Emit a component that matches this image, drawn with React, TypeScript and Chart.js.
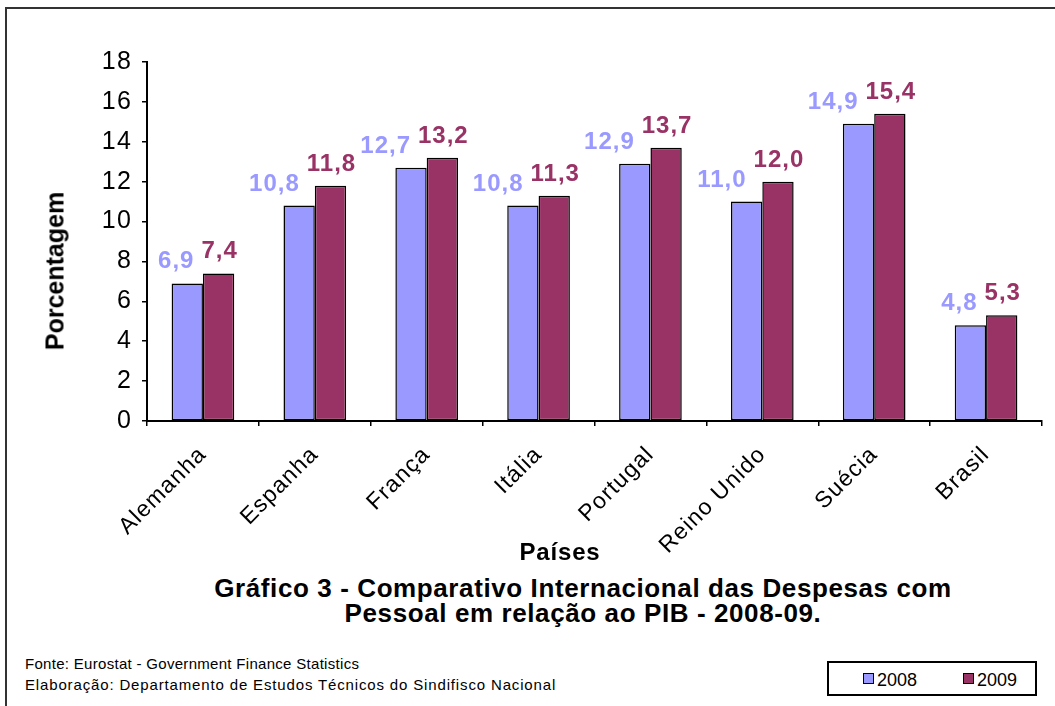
import React, { useEffect, useRef } from "react";
import { Chart, registerables } from "chart.js";

Chart.register(...registerables);

// ---- data ----
const categories = ["Alemanha", "Espanha", "França", "Itália", "Portugal", "Reino Unido", "Suécia", "Brasil"];
const values2008 = [6.9, 10.8, 12.7, 10.8, 12.9, 11.0, 14.9, 4.8];
const values2009 = [7.4, 11.8, 13.2, 11.3, 13.7, 12.0, 15.4, 5.3];
const seriesLabels = ["2008", "2009"];
const yMin = 0;
const yMax = 18;
const yStep = 2;

const titleLines = [
  "Gráfico 3 - Comparativo Internacional das Despesas com",
  "Pessoal em relação ao PIB - 2008-09.",
];
const xTitle = "Países";
const yTitle = "Porcentagem";
const footLines = [
  "Fonte: Eurostat - Government Finance Statistics",
  "Elaboração: Departamento de Estudos Técnicos do Sindifisco Nacional",
];

// ---- styles ----
const FONT = '"Liberation Sans", Arial, Helvetica, sans-serif';
const color2008 = "#9999FF";
const color2009 = "#993366";

const fmt = (v: number) => v.toFixed(1).replace(".", ",");

const spacingPlugin = {
  id: "tickSpacing",
  beforeDraw(chart: any) {
    try {
      chart.ctx.letterSpacing = "1.2px";
    } catch (e) {}
  },
  afterDraw(chart: any) {
    try {
      chart.ctx.letterSpacing = "0px";
    } catch (e) {}
  },
};

const dataLabelPlugin = {
  id: "dataLabels",
  afterDatasetsDraw(chart: any) {
    const ctx = chart.ctx;
    const m0 = chart.getDatasetMeta(0);
    const m1 = chart.getDatasetMeta(1);
    ctx.save();
    ctx.font = `bold 24px ${FONT}`;
    try {
      ctx.letterSpacing = "1px";
    } catch (e) {}
    ctx.textBaseline = "alphabetic";
    for (let i = 0; i < categories.length; i++) {
      const b0 = m0.data[i];
      const b1 = m1.data[i];
      const t0 = fmt(values2008[i]);
      const t1 = fmt(values2009[i]);
      const w0 = ctx.measureText(t0).width;
      const w1 = ctx.measureText(t1).width;
      const left1 = b1.x - w1 / 2;
      const right0 = Math.min(b0.x + w0 / 2, left1 - 6);
      ctx.fillStyle = color2009;
      ctx.textAlign = "center";
      ctx.fillText(t1, b1.x + 1, b1.y - 15);
      ctx.fillStyle = color2008;
      ctx.textAlign = "right";
      ctx.fillText(t0, right0, b0.y - 15);
    }
    ctx.restore();
  },
};

function T({
  x,
  base,
  size,
  bold = false,
  center = false,
  spacing = 0,
  children,
}: {
  x: number;
  base: number;
  size: number;
  bold?: boolean;
  center?: boolean;
  spacing?: number;
  children: React.ReactNode;
}) {
  return (
    <div
      style={{
        position: "absolute",
        left: x,
        top: base - 0.8465 * size,
        fontFamily: FONT,
        fontSize: size,
        lineHeight: `${size}px`,
        fontWeight: bold ? 700 : 400,
        whiteSpace: "nowrap",
        letterSpacing: spacing,
        transform: center ? "translateX(-50%)" : undefined,
        color: "#000",
      }}
    >
      {children}
    </div>
  );
}

export default function App() {
  const canvasRef = useRef<HTMLCanvasElement | null>(null);

  useEffect(() => {
    if (!canvasRef.current) return;
    Chart.defaults.font.family = FONT;
    const chart = new Chart(canvasRef.current, {
      type: "bar",
      data: {
        labels: categories,
        datasets: [
          {
            label: seriesLabels[0],
            data: values2008,
            backgroundColor: color2008,
            borderColor: "#000",
            borderWidth: 1.5,
            borderSkipped: false,
            categoryPercentage: 0.56,
            barPercentage: 1.0,
          },
          {
            label: seriesLabels[1],
            data: values2009,
            backgroundColor: color2009,
            borderColor: "#000",
            borderWidth: 1.5,
            borderSkipped: false,
            categoryPercentage: 0.56,
            barPercentage: 1.0,
          },
        ],
      },
      options: {
        animation: false,
        responsive: false,
        devicePixelRatio: 1,
        layout: { padding: { left: 0, top: 62, right: 13, bottom: 0 } },
        plugins: {
          legend: { display: false },
          tooltip: { enabled: false },
          title: { display: false },
        },
        scales: {
          x: {
            afterFit: (scale: any) => {
              scale.height = 139;
            },
            grid: {
              display: true,
              drawOnChartArea: false,
              drawTicks: true,
              tickLength: 5,
              color: "#000",
              lineWidth: 1.5,
              offset: true,
            },
            border: { display: true, color: "#000", width: 2 },
            ticks: {
              autoSkip: false,
              minRotation: 45,
              maxRotation: 45,
              padding: 15,
              color: "#000",
              font: { size: 23, family: FONT },
            },
          },
          y: {
            min: yMin,
            max: yMax,
            afterFit: (scale: any) => {
              scale.width = 147;
            },
            grid: {
              display: true,
              drawOnChartArea: false,
              drawTicks: true,
              tickLength: 5,
              color: "#000",
              lineWidth: 1.5,
            },
            border: { display: true, color: "#000", width: 2 },
            ticks: {
              stepSize: yStep,
              padding: 10,
              color: "#000",
              font: { size: 25, family: FONT },
            },
          },
        },
      },
      plugins: [spacingPlugin, dataLabelPlugin],
    } as any);
    return () => chart.destroy();
  }, []);

  return (
    <div
      style={{
        position: "absolute",
        left: 0,
        top: 0,
        width: 1055,
        height: 706,
        overflow: "hidden",
        background: "#fff",
      }}
    >
      <div
        style={{
          position: "absolute",
          left: 5,
          top: 7,
          width: 1200,
          height: 900,
          borderTop: "2px solid #333",
          borderLeft: "2px solid #333",
        }}
      />
      <canvas
        ref={canvasRef}
        width={1055}
        height={560}
        style={{ position: "absolute", left: 0, top: 0, width: 1055, height: 560 }}
      />
      <div
        style={{
          position: "absolute",
          left: 55,
          top: 271,
          transform: "translate(-50%, -50%) rotate(-90deg)",
          fontFamily: FONT,
          fontSize: 25,
          lineHeight: "25px",
          fontWeight: 700,
          whiteSpace: "nowrap",
          color: "#000",
        }}
      >
        {yTitle}
      </div>
      <T x={560} base={560} size={24} bold center spacing={0.8}>
        {xTitle}
      </T>
      <T x={583} base={597} size={26} bold center spacing={0.6}>
        {titleLines[0]}
      </T>
      <T x={583} base={622} size={26} bold center spacing={0.6}>
        {titleLines[1]}
      </T>
      <T x={25} base={669} size={15} spacing={0.3}>
        {footLines[0]}
      </T>
      <T x={25} base={690} size={15} spacing={0.85}>
        {footLines[1]}
      </T>
      <div
        style={{
          position: "absolute",
          left: 827,
          top: 661,
          width: 210,
          height: 35,
          border: "2px solid #000",
          boxSizing: "border-box",
        }}
      />
      <div
        style={{
          position: "absolute",
          left: 863,
          top: 673,
          width: 11,
          height: 11,
          background: color2008,
          border: "1px solid #000",
          boxSizing: "border-box",
        }}
      />
      <T x={877} base={686} size={18}>
        {seriesLabels[0]}
      </T>
      <div
        style={{
          position: "absolute",
          left: 963,
          top: 673,
          width: 11,
          height: 11,
          background: color2009,
          border: "1px solid #000",
          boxSizing: "border-box",
        }}
      />
      <T x={977} base={686} size={18}>
        {seriesLabels[1]}
      </T>
    </div>
  );
}
